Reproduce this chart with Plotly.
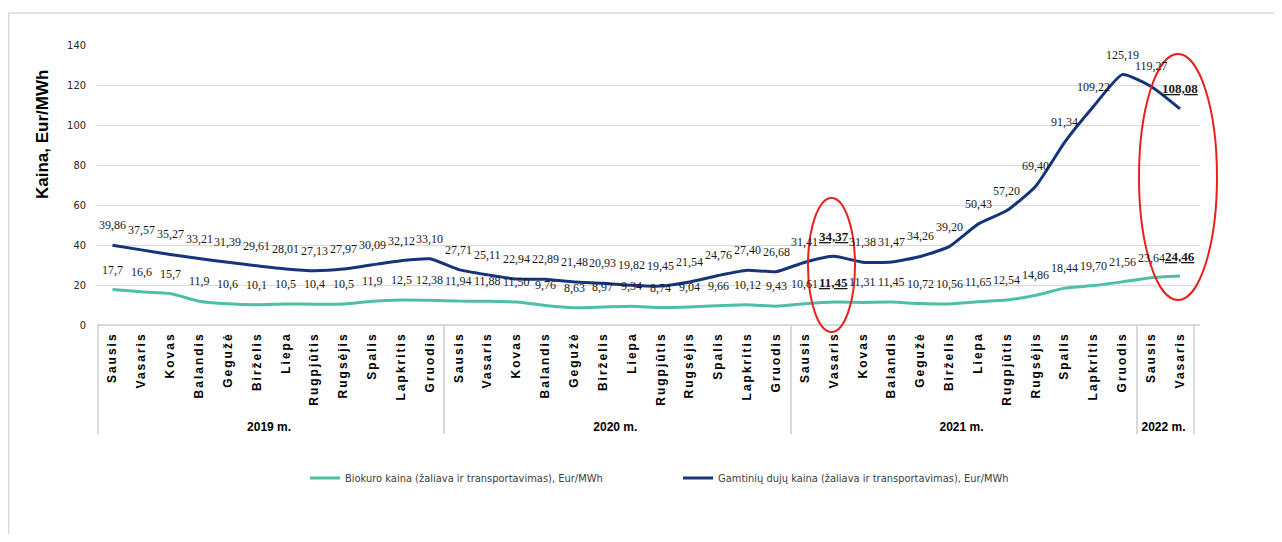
import plotly.graph_objects as go

months = ["Sausis", "Vasaris", "Kovas", "Balandis", "Gegužė", "Birželis", "Liepa",
          "Rugpjūtis", "Rugsėjis", "Spalis", "Lapkritis", "Gruodis"]
years = ["2019 m."] * 12 + ["2020 m."] * 12 + ["2021 m."] * 12 + ["2022 m."] * 2
month_labels = months * 3 + months[:2]

bio = [17.7, 16.6, 15.7, 11.9, 10.6, 10.1, 10.5, 10.4, 10.5, 11.9, 12.5, 12.38,
       11.94, 11.88, 11.50, 9.76, 8.63, 8.97, 9.34, 8.74, 9.04, 9.66, 10.12, 9.43,
       10.61, 11.45, 11.31, 11.45, 10.72, 10.56, 11.65, 12.54, 14.86, 18.44, 19.70, 21.56,
       23.64, 24.46]
bio_text = ["17,7", "16,6", "15,7", "11,9", "10,6", "10,1", "10,5", "10,4", "10,5", "11,9", "12,5", "12,38",
            "11,94", "11,88", "11,50", "9,76", "8,63", "8,97", "9,34", "8,74", "9,04", "9,66", "10,12", "9,43",
            "10,61", "11,45", "11,31", "11,45", "10,72", "10,56", "11,65", "12,54", "14,86", "18,44", "19,70", "21,56",
            "23,64", "24,46"]
gas = [39.86, 37.57, 35.27, 33.21, 31.39, 29.61, 28.01, 27.13, 27.97, 30.09, 32.12, 33.10,
       27.71, 25.11, 22.94, 22.89, 21.48, 20.93, 19.82, 19.45, 21.54, 24.76, 27.40, 26.68,
       31.41, 34.37, 31.38, 31.47, 34.26, 39.20, 50.43, 57.20, 69.40, 91.34, 109.22, 125.19,
       119.27, 108.08]
gas_text = ["39,86", "37,57", "35,27", "33,21", "31,39", "29,61", "28,01", "27,13", "27,97", "30,09", "32,12", "33,10",
            "27,71", "25,11", "22,94", "22,89", "21,48", "20,93", "19,82", "19,45", "21,54", "24,76", "27,40", "26,68",
            "31,41", "34,37", "31,38", "31,47", "34,26", "39,20", "50,43", "57,20", "69,40", "91,34", "109,22", "125,19",
            "119,27", "108,08"]
highlight = [25, 37]

bio_name = "Biokuro kaina (žaliava ir transportavimas), Eur/MWh"
gas_name = "Gamtinių dujų kaina (žaliava ir transportavimas), Eur/MWh"
y_title = "Kaina, Eur/MWh"
bio_color = "#4dbfa6"
gas_color = "#16347a"

spaced = [f'<span style="letter-spacing:2px">\u00a0{m}</span>' for m in month_labels]
x = [years, spaced]

fig = go.Figure()
fig.add_trace(go.Scatter(x=x, y=bio, mode="lines", name=bio_name,
                         line=dict(color=bio_color, width=3, shape="spline", smoothing=0.5)))
fig.add_trace(go.Scatter(x=x, y=gas, mode="lines", name=gas_name,
                         line=dict(color=gas_color, width=3, shape="spline", smoothing=0.5)))

# page-pixel to paper conversion (plot area spans x 97..1200, y 325..45 on the page)
px0, px1, py0, py1 = 97, 1200, 325, 45
def pxx(p):
    return (p - px0) / (px1 - px0)
def pyy(p):
    return (py0 - p) / (py0 - py1)

ann = []
for series, texts in ((bio, bio_text), (gas, gas_text)):
    for i, (v, t) in enumerate(zip(series, texts)):
        label = f"<b><u>{t}</u></b>" if i in highlight else t
        ann.append(dict(x=i, y=v, text=label, showarrow=False, yshift=20,
                        font=dict(family="Liberation Serif, Times New Roman, serif",
                                  size=13 if i in highlight else 12, color="#1a1a1a")))
ann.append(dict(x=pxx(43), y=pyy(135), xref="paper", yref="paper", text=f"<b>{y_title}</b>",
                textangle=-90, showarrow=False, xanchor="center", yanchor="middle",
                font=dict(family="Liberation Sans, Arial, sans-serif", size=17, color="#000000")))

shapes = [
    dict(type="rect", xref="paper", yref="paper", x0=pxx(8.7), x1=pxx(1300), y0=pyy(560), y1=pyy(13),
         line=dict(color="#d9d9d9", width=1.5), fillcolor="rgba(0,0,0,0)", layer="below"),
    dict(type="circle", xref="paper", yref="paper", x0=pxx(808), x1=pxx(855), y0=pyy(332), y1=pyy(198),
         line=dict(color="#e8201e", width=2)),
    dict(type="circle", xref="paper", yref="paper", x0=pxx(1139), x1=pxx(1217), y0=pyy(300), y1=pyy(54),
         line=dict(color="#e8201e", width=2)),
]

fig.update_layout(
    width=1266, height=526,
    margin=dict(l=89, r=74, t=37, b=209),
    paper_bgcolor="white", plot_bgcolor="white",
    annotations=ann, shapes=shapes,
    showlegend=True,
    legend=dict(orientation="h", x=pxx(678), xanchor="center", y=pyy(478), yanchor="middle",
                font=dict(family="Liberation Sans Narrow, Arial Narrow, DejaVu Sans Condensed, sans-serif",
                          size=11, color="#404040"),
                itemwidth=30, entrywidth=328, traceorder="normal"),
    xaxis=dict(type="multicategory", tickangle=-90, showgrid=False, showline=False,
               showdividers=True, dividercolor="#d9d9d9", dividerwidth=1.5,
               ticklabelstandoff=4,
               tickfont=dict(family="Liberation Sans, Arial, sans-serif", size=12, color="#000000",
                             weight="bold"),
               ticks=""),
    yaxis=dict(range=[0, 140], dtick=20, showgrid=True, gridcolor="#d9d9d9", gridwidth=1,
               zeroline=True, zerolinecolor="#d9d9d9", zerolinewidth=1.5, showline=False,
               ticks="", ticklabelstandoff=10,
               tickfont=dict(family="Liberation Sans Narrow, Arial Narrow, DejaVu Sans Condensed, sans-serif",
                             size=11, color="#262626")),
)

fig.write_html("out.html")
